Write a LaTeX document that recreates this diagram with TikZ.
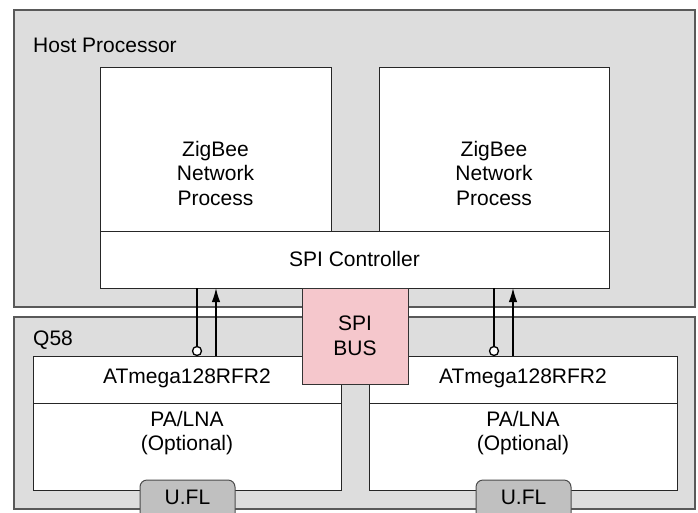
\documentclass[tikz,border=0pt]{standalone}
\usepackage{fontspec}
\setmainfont{Liberation Sans}
\usetikzlibrary{arrows.meta}
\definecolor{bgray}{RGB}{221,221,221}
\definecolor{spipink}{RGB}{245,199,204}
\definecolor{uflgray}{RGB}{192,192,192}
\begin{document}
\begin{tikzpicture}[x=1pt,y=-1pt,
  box/.style={rectangle,anchor=north west,inner sep=0pt,outer sep=0pt},
  outerbox/.style={box,draw=black!65,line width=1.3pt,fill=bgray},
  innerbox/.style={box,draw=black!85,line width=1pt,fill=white},
  txt/.style={font=\fontsize{21}{24.5}\selectfont,align=center,inner sep=0pt},
  conn/.style={draw=black,line width=1.3pt},
  opencirc/.style={circle,draw=black,line width=1.3pt,fill=white,inner sep=0pt,minimum size=9pt},
  arr/.style={conn,-{Latex[length=14pt,width=8.5pt]}}
]
\useasboundingbox (0,0) rectangle (698,512);
\fill[white] (0,0) rectangle (698,512);

% outer boxes
\node[outerbox,minimum width=681pt,minimum height=297pt] (host) at (14,10) {};
\node[outerbox,minimum width=681pt,minimum height=192pt] (q58) at (14,317) {};
\node[txt,anchor=west] (hostt) at (33,45) {Host Processor};
\node[txt,anchor=west] (q58t) at (33,340) {Q58};

% host inner boxes
\node[innerbox,minimum width=231pt,minimum height=164pt] (zb1) at (100,67) {};
\node[innerbox,minimum width=230pt,minimum height=164pt] (zb2) at (379,67) {};
\node[innerbox,minimum width=509pt,minimum height=57pt] (spic) at (100,231) {};
\node[txt] (zb1t) at (215.5,173) {ZigBee\\Network\\Process};
\node[txt] (zb2t) at (494,173) {ZigBee\\Network\\Process};
\node[txt] (spict) at (354.5,259) {SPI Controller};

% modules
\node[innerbox,minimum width=308pt,minimum height=87pt] (pa1) at (33,403) {};
\node[innerbox,minimum width=308pt,minimum height=47pt] (at1) at (33,356) {};
\node[innerbox,minimum width=308pt,minimum height=87pt] (pa2) at (369,403) {};
\node[innerbox,minimum width=308pt,minimum height=47pt] (at2) at (369,356) {};
\node[txt] (at1t) at (187,378) {ATmega128RFR2};
\node[txt] (at2t) at (523,378) {ATmega128RFR2};
\node[txt] (pa1t) at (187,433) {PA/LNA\\(Optional)};
\node[txt] (pa2t) at (523,433) {PA/LNA\\(Optional)};

% U.FL tabs
\node[box,draw=black!70,line width=1pt,fill=uflgray,rounded corners=7pt,minimum width=95pt,minimum height=50pt] (ufl1) at (140,480) {};
\node[box,draw=black!70,line width=1pt,fill=uflgray,rounded corners=7pt,minimum width=95pt,minimum height=50pt] (ufl2) at (476,480) {};
\node[txt] (ufl1t) at (187.5,497) {U.FL};
\node[txt] (ufl2t) at (523.5,497) {U.FL};

% SPI bus
\node[box,draw=black!80,line width=1pt,fill=spipink,minimum width=106pt,minimum height=96pt] (bus) at (302,288) {};
\node[txt] (bust) at (355,336) {SPI\\BUS};

% connectors
\node[opencirc] (o1) at (197,351) {};
\node[opencirc] (o2) at (494,351) {};
\coordinate (a1) at (216,300);
\coordinate (a2) at (513,300);
\draw[conn] (spic.south -| o1) -- (o1.north);
\draw[conn] (spic.south -| o2) -- (o2.north);
\draw[arr] (at1.north -| a1) -- (spic.south -| a1);
\draw[arr] (at2.north -| a2) -- (spic.south -| a2);
\end{tikzpicture}
\end{document}
